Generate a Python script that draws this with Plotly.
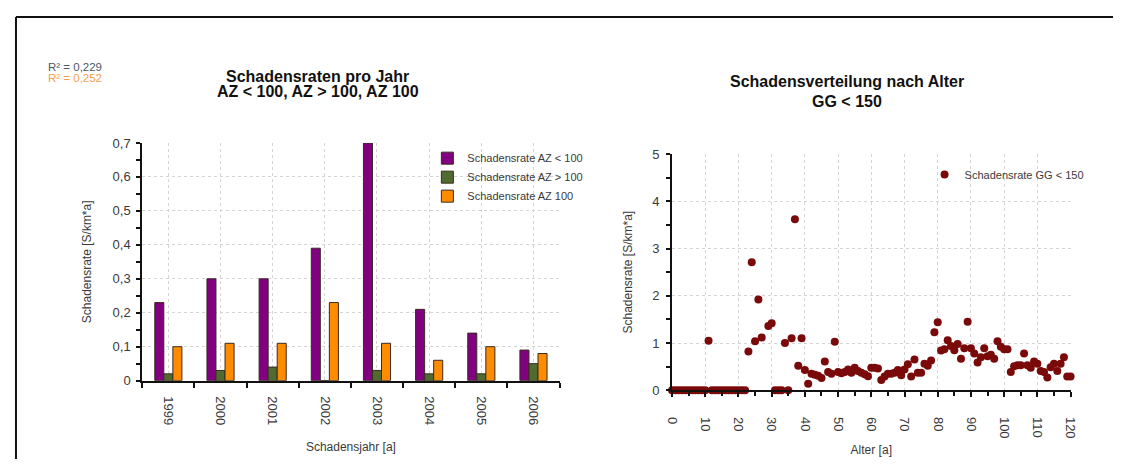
import plotly.graph_objects as go

# ---- data: left chart (damage rates per year) ----
years = [1999, 2000, 2001, 2002, 2003, 2004, 2005, 2006]
year_labels = ["1999", "2000", "2001", "2002", "2003", "2004", "2005", "2006"]
rate_az_lt100 = [0.23, 0.30, 0.30, 0.39, 0.70, 0.21, 0.14, 0.09]
rate_az_gt100 = [0.02, 0.03, 0.04, 0.00, 0.03, 0.02, 0.02, 0.05]
rate_az_100 = [0.10, 0.11, 0.11, 0.23, 0.11, 0.06, 0.10, 0.08]

# ---- data: right chart (damage distribution by age) ----
ages = list(range(0, 28)) + list(range(29, 121))
rate_gg_lt150 = (
    [0.0] * 11 + [1.05] + [0.0] * 11
    + [0.82, 2.71, 1.04, 1.92, 1.12]                       # 23-27
    + [1.36, 1.42, 0.0, 0.0, 0.0, 1.0, 0.0, 1.10, 3.62, 0.52, 1.10]  # 29-39
    + [0.43, 0.14, 0.35, 0.33, 0.31, 0.26, 0.61, 0.39, 0.35, 1.03]  # 40-49
    + [0.39, 0.36, 0.39, 0.44, 0.37, 0.48, 0.41, 0.37, 0.34, 0.30]  # 50-59
    + [0.48, 0.48, 0.46, 0.22, 0.29, 0.35, 0.35, 0.37, 0.43, 0.32]  # 60-69
    + [0.44, 0.55, 0.29, 0.65, 0.37, 0.37, 0.56, 0.52, 0.63, 1.23]  # 70-79
    + [1.44, 0.84, 0.87, 1.06, 0.94, 0.85, 0.98, 0.67, 0.89, 1.45]  # 80-89
    + [0.89, 0.78, 0.59, 0.70, 0.89, 0.72, 0.75, 0.67, 1.04, 0.92]  # 90-99
    + [0.87, 0.87, 0.39, 0.51, 0.53, 0.53, 0.78, 0.53, 0.48, 0.61]  # 100-109
    + [0.56, 0.41, 0.39, 0.27, 0.49, 0.56, 0.41, 0.56, 0.70, 0.29, 0.29]  # 110-120
)

left_yticks = [0, 0.1, 0.2, 0.3, 0.4, 0.5, 0.6, 0.7]
right_yticks = [0, 1, 2, 3, 4, 5]
right_xticks = list(range(0, 121, 10))

# page is 1129x475; the browser body keeps an 8px margin around the figure
PAGE_W, PAGE_H, M = 1129, 475, 8
FW, FH = PAGE_W - 2 * M, PAGE_H - 2 * M
NARROW = "Liberation Sans Narrow, Arial Narrow, Liberation Sans, Arial, sans-serif"
REG = "Liberation Sans, Arial, sans-serif"
TXT = "#3a3a3a"
GRID = "#d4d4d4"


def px(x):
    """page pixel x -> paper fraction"""
    return (x - M) / FW


def py(y):
    """page pixel y (from top) -> paper fraction"""
    return 1 - (y - M) / FH


fig = go.Figure()

bar_line = dict(color="#3a2a20", width=1)
fig.add_trace(go.Bar(x=years, y=rate_az_lt100, name="Schadensrate AZ < 100",
                     marker=dict(color="#800080", line=bar_line), xaxis="x", yaxis="y", legend="legend"))
fig.add_trace(go.Bar(x=years, y=rate_az_gt100, name="Schadensrate AZ > 100",
                     marker=dict(color="#4f6b2f", line=bar_line), xaxis="x", yaxis="y", legend="legend"))
fig.add_trace(go.Bar(x=years, y=rate_az_100, name="Schadensrate AZ 100",
                     marker=dict(color="#ff8c00", line=bar_line), xaxis="x", yaxis="y", legend="legend"))

fig.add_trace(go.Scatter(x=ages, y=rate_gg_lt150, mode="markers", name="Schadensrate GG < 150",
                         marker=dict(color="#7a0a0a", size=8), xaxis="x2", yaxis="y2", legend="legend2",
                         cliponaxis=False))

tickfont = dict(family=REG, size=13, color=TXT)
titlefont = dict(family=REG, size=12, color=TXT)
axis_common = dict(showline=True, linecolor="#111", linewidth=2, mirror=False,
                   gridcolor=GRID, griddash="dot", gridwidth=1, zeroline=False,
                   tickfont=tickfont,
                   ticks="outside", tickcolor="#111", ticklen=4, tickwidth=1.5)
minor_common = dict(ticks="outside", ticklen=4, tickcolor="#111", tickwidth=1.5, showgrid=False)

fig.update_layout(
    width=FW, height=FH,
    margin=dict(l=0, r=0, t=0, b=0),
    paper_bgcolor="white", plot_bgcolor="white",
    separators=", ",
    barmode="group", bargap=0.48, bargroupgap=0.0,
    showlegend=True,
    xaxis=dict(axis_common, domain=[px(137), px(560)], range=[1998.5, 2006.5],
               tickvals=years, ticktext=year_labels, tickangle=90, ticklen=0,
               ticklabelstandoff=11,
               minor=dict(minor_common, tickvals=[y - 0.5 for y in years] + [2006.5], ticklen=5),
               title=dict(text="Schadensjahr [a]", font=titlefont, standoff=18),
               anchor="y"),
    yaxis=dict(axis_common, domain=[py(386), py(140.3)], range=[0, 0.7],
               tickvals=left_yticks, ticklabelstandoff=3,
               minor=dict(minor_common, dtick=0.05),
               title=dict(text="Schadensrate [S/km*a]", font=titlefont, standoff=18),
               anchor="x"),
    xaxis2=dict(axis_common, domain=[px(674), px(1078)], range=[0, 120],
                tickvals=right_xticks, tickangle=90, ticklen=5, ticklabelstandoff=17,
                minor=dict(minor_common, dtick=5),
                title=dict(text="Alter [a]", font=titlefont, standoff=8),
                anchor="y2"),
    yaxis2=dict(axis_common, domain=[py(396), py(151.7)], range=[0, 5],
                tickvals=right_yticks, ticklabelstandoff=4,
                minor=dict(minor_common, dtick=0.5),
                title=dict(text="Schadensrate [S/km*a]", font=titlefont, standoff=17),
                anchor="x2"),
    legend=dict(x=px(426), y=py(141), xanchor="left", yanchor="top",
                bgcolor="rgba(255,255,255,0)", borderwidth=0,
                font=dict(family=NARROW, size=11, color=TXT), tracegroupgap=0, itemwidth=30),
    legend2=dict(x=px(930), y=py(158), xanchor="left", yanchor="top",
                 bgcolor="rgba(255,255,255,0)", borderwidth=0,
                 font=dict(family=NARROW, size=11, color=TXT), itemwidth=30),
)


def ann(text, x, y, size, color="#111", family=REG, xanchor="center"):
    fig.add_annotation(text=text, x=px(x), y=py(y), xref="paper", yref="paper",
                       showarrow=False, xanchor=xanchor, yanchor="middle",
                       font=dict(family=family, size=size, color=color))


ann("<b>Schadensraten pro Jahr</b>", 315, 72, 16)
ann("<b>AZ &lt; 100, AZ &gt; 100, AZ 100</b>", 315, 87, 16)
ann("<b>Schadensverteilung nach Alter</b>", 851, 77, 16)
ann("<b>GG &lt; 150</b>", 851, 97, 16)
ann("R² = 0,229", 39, 62, 11.5, color="#4a5866", xanchor="left")
ann("R² = 0,252", 39, 73, 11.5, color="#f0a050", xanchor="left")

# outer frame (top and left edges visible in the reference)
fig.add_shape(type="line", xref="paper", yref="paper", x0=px(9), y0=py(10), x1=1.0, y1=py(10),
              line=dict(color="#111", width=2))
fig.add_shape(type="line", xref="paper", yref="paper", x0=px(9), y0=py(10), x1=px(9), y1=0,
              line=dict(color="#111", width=2))

fig.write_html("out.html", config={"displayModeBar": False})
